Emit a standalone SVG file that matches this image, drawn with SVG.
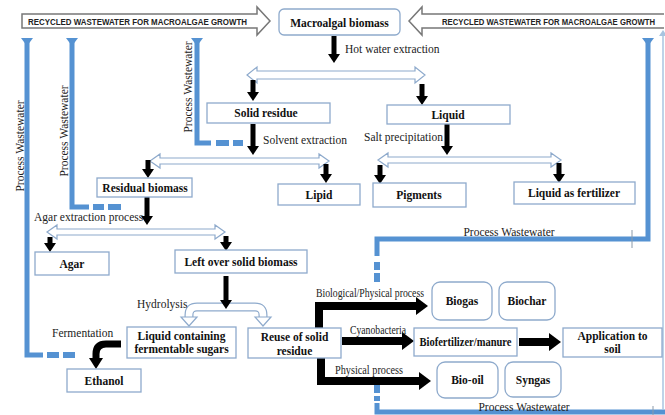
<svg xmlns="http://www.w3.org/2000/svg" width="665" height="415" viewBox="0 0 665 415">
<defs>
<style>
.box{fill:#fff;stroke:#8eaacc;stroke-width:1.3}
.bt{font-family:"Liberation Serif","Times New Roman",serif;font-weight:bold;font-size:11.5px;fill:#111;text-anchor:middle}
.lt{font-family:"Liberation Serif","Times New Roman",serif;font-size:11.5px;fill:#222}
.ban{fill:#fff;stroke:#777;stroke-width:1.5}
.bant{font-family:"Liberation Sans",Arial,sans-serif;font-weight:bold;font-size:9.5px;fill:#222}
.dbl{fill:#fff;stroke:#8eaacc;stroke-width:1.2}
.blk{stroke:#000;stroke-width:5;fill:none}
.blk2{stroke:#000;stroke-width:8;fill:none}
.blu{stroke:#5592d2;stroke-width:5;fill:none}
.dash{fill:#5592d2}
</style>
<marker id="ab" markerUnits="userSpaceOnUse" markerWidth="9" markerHeight="12" refX="0" refY="6" orient="auto"><path d="M0,0 L9,6 L0,12 Z" fill="#000"/></marker>
<marker id="ab2" markerUnits="userSpaceOnUse" markerWidth="12" markerHeight="18" refX="0" refY="9" orient="auto"><path d="M0,0 L12,9 L0,18 Z" fill="#000"/></marker>
<marker id="au" markerUnits="userSpaceOnUse" markerWidth="8" markerHeight="12" refX="0" refY="6" orient="auto"><path d="M0,0 L8,6 L0,12 Z" fill="#5592d2"/></marker>
</defs>

<!-- banners -->
<g id="banner-left">
<path class="ban" d="M22,14 L257,14 L257,7 L270,21 L257,35 L257,28 L22,28 Z"/>
<text class="bant" x="28" y="24.5" textLength="219" lengthAdjust="spacingAndGlyphs">RECYCLED WASTEWATER FOR MACROALGAE GROWTH</text>
</g>
<g id="banner-right">
<path class="ban" d="M664,14 L422,14 L422,7 L409,21 L422,35 L422,28 L664,28"/>
<text class="bant" x="442" y="24.5" textLength="213" lengthAdjust="spacingAndGlyphs">RECYCLED WASTEWATER FOR MACROALGAE GROWTH</text>
</g>

<!-- connectors -->
<g id="connectors">
<!-- blue wastewater lines -->
<path class="blu" d="M27,38 L27,355 L43,355" marker-start="url(#au)"/>
<rect class="dash" x="47" y="352" width="12" height="6"/>
<rect class="dash" x="63" y="352" width="12" height="6"/>
<path class="blu" d="M72,38 L72,207 L89,207" marker-start="url(#au)"/>
<rect class="dash" x="93" y="204" width="11" height="6"/>
<rect class="dash" x="108" y="204" width="13" height="6"/>
<path class="blu" d="M197,38 L197,143 L211,143" marker-start="url(#au)"/>
<rect class="dash" x="216" y="140" width="13" height="6"/>
<rect class="dash" x="233" y="140" width="10" height="6"/>
<path class="blu" d="M648,38 L648,239 L377,239 L377,256" marker-start="url(#au)"/>
<rect class="dash" x="374" y="262" width="6" height="8"/>
<rect class="dash" x="374" y="273" width="6" height="9"/>
<rect class="dash" x="374" y="385" width="6" height="8"/>
<rect class="dash" x="374" y="396" width="6" height="5"/>
<path class="blu" d="M377,403 L377,412 L668,412"/>
<line x1="663" y1="34" x2="663" y2="410" stroke="#a8c4e0" stroke-width="1.5"/>
<path d="M659,36 L663,30 L667,36 Z" fill="#a8c4e0"/>
<line x1="632" y1="230" x2="632" y2="248" stroke="#8a9aaa" stroke-width="1"/>
<line x1="653" y1="406" x2="653" y2="415" stroke="#8a9aaa" stroke-width="1"/>
<text class="lt" transform="translate(192,87) rotate(-90)" text-anchor="middle" font-size="11.5">Process Wastewater</text>
<text class="lt" transform="translate(68,131) rotate(-90)" text-anchor="middle" font-size="11.5">Process Wastewater</text>
<text class="lt" transform="translate(24,146) rotate(-90)" text-anchor="middle" font-size="11.5">Process Wastewater</text>
<text class="lt" x="509" y="236" text-anchor="middle" font-size="11">Process Wastewater</text>
<text class="lt" x="524" y="411" text-anchor="middle" font-size="11">Process Wastewater</text>

<!-- black down arrows -->
<line class="blk" x1="334" y1="36" x2="334" y2="54" marker-end="url(#ab)"/>
<text class="lt" x="345" y="53">Hot water extraction</text>
<path class="dbl" d="M247,75 L257,67 L257,71 L415,71 L415,67 L425,75 L415,83 L415,79 L257,79 L257,83 Z"/>
<line class="blk" x1="253" y1="80" x2="253" y2="92" marker-end="url(#ab)"/>
<line class="blk" x1="422" y1="84" x2="422" y2="96" marker-end="url(#ab)"/>

<line class="blk" x1="253" y1="124" x2="253" y2="146" marker-end="url(#ab)"/>
<text class="lt" x="263" y="144">Solvent extraction</text>
<line class="blk" x1="447" y1="124" x2="447" y2="146" marker-end="url(#ab)"/>
<text class="lt" x="364" y="141">Salt precipitation</text>

<path class="dbl" d="M150,161 L160,154 L160,158 L319,158 L319,154 L329,161 L319,168 L319,164 L160,164 L160,168 Z"/>
<line class="blk" x1="148" y1="160" x2="148" y2="169" marker-end="url(#ab)"/>
<line class="blk" x1="326" y1="164" x2="326" y2="174" marker-end="url(#ab)"/>
<path class="dbl" d="M378,160 L388,153 L388,157 L551,157 L551,153 L561,160 L551,167 L551,163 L388,163 L388,167 Z"/>
<line class="blk" x1="380" y1="165" x2="380" y2="175" marker-end="url(#ab)"/>
<line class="blk" x1="559" y1="163" x2="559" y2="174" marker-end="url(#ab)"/>

<line class="blk" x1="147" y1="197" x2="147" y2="216" marker-end="url(#ab)"/>
<text class="lt" x="34" y="221">Agar extraction process</text>
<path class="dbl" d="M47,232 L57,225 L57,229 L215,229 L215,225 L225,232 L215,239 L215,235 L57,235 L57,239 Z"/>
<line class="blk" x1="50" y1="237" x2="50" y2="243" marker-end="url(#ab)"/>
<line class="blk" x1="226" y1="236" x2="226" y2="242" marker-end="url(#ab)"/>

<!-- hydrolysis split -->
<path d="M226,307 L197,307 Q189,307 189,315 L189,318" fill="none" stroke="#8eaacc" stroke-width="9"/>
<path d="M226,307 L197,307 Q189,307 189,315 L189,318" fill="none" stroke="#fff" stroke-width="6.6"/>
<path class="dbl" d="M181,317 L197,317 L189,326 Z"/>
<path d="M226,307 L255,307 Q263,307 263,315 L263,318" fill="none" stroke="#8eaacc" stroke-width="9"/>
<path d="M226,307 L255,307 Q263,307 263,315 L263,318" fill="none" stroke="#fff" stroke-width="6.6"/>
<path class="dbl" d="M255,317 L271,317 L263,326 Z"/>
<line class="blk" x1="226" y1="276" x2="226" y2="300" marker-end="url(#ab)"/>
<text class="lt" x="137" y="308" font-size="11">Hydrolysis</text>

<!-- fermentation -->
<path d="M121,344 L106,344 Q96,344 96,354 L96,359" fill="none" stroke="#000" stroke-width="7"/>
<path d="M89,358 L103,358 L96,369 Z" fill="#000"/>
<text class="lt" x="52" y="337" font-size="11">Fermentation</text>

<!-- reuse outputs -->
<path class="blk2" d="M319,328 L319,306 L416,306" marker-end="url(#ab2)"/>
<text class="lt" x="316" y="297" font-size="10" textLength="108" lengthAdjust="spacingAndGlyphs">Biological/Physical process</text>
<line class="blk2" x1="342" y1="341" x2="402" y2="341" marker-end="url(#ab2)"/>
<text class="lt" x="350" y="334" font-size="10" textLength="56" lengthAdjust="spacingAndGlyphs">Cyanobacteria</text>
<path class="blk2" d="M321,358 L321,381 L419,381" marker-end="url(#ab2)"/>
<text class="lt" x="335" y="374" font-size="10" textLength="68" lengthAdjust="spacingAndGlyphs">Physical process</text>
<line class="blk2" x1="519" y1="342" x2="549" y2="342" marker-end="url(#ab2)"/>
</g>

<!-- nodes -->
<g id="macroalgal-biomass"><rect class="box" x="279" y="9" width="121" height="26" rx="5"/><text class="bt" x="339.5" y="27" font-size="13">Macroalgal biomass</text></g>
<g id="solid-residue"><rect class="box" x="207" y="103" width="123" height="20"/><text class="bt" x="266" y="117">Solid residue</text></g>
<g id="liquid"><rect class="box" x="387" y="105" width="123" height="19"/><text class="bt" x="448" y="119">Liquid</text></g>
<g id="residual-biomass"><rect class="box" x="97" y="178" width="95" height="19"/><text class="bt" x="145" y="192">Residual biomass</text></g>
<g id="lipid"><rect class="box" x="278" y="184" width="82" height="21"/><text class="bt" x="319" y="199">Lipid</text></g>
<g id="pigments"><rect class="box" x="373" y="183" width="93" height="24"/><text class="bt" x="419" y="199">Pigments</text></g>
<g id="liquid-fertilizer"><rect class="box" x="514" y="182" width="121" height="22"/><text class="bt" x="574" y="197">Liquid as fertilizer</text></g>
<g id="agar"><rect class="box" x="35" y="252" width="74" height="23"/><text class="bt" x="72" y="268">Agar</text></g>
<g id="left-over"><rect class="box" x="175" y="250" width="132" height="23"/><text class="bt" x="241" y="266">Left over solid biomass</text></g>
<g id="liquid-sugars"><rect class="box" x="127" y="327" width="109" height="31"/><text class="bt" x="181.5" y="340" font-size="10">Liquid containing</text><text class="bt" x="181.5" y="353" font-size="10">fermentable sugars</text></g>
<g id="reuse"><rect class="box" x="248" y="328" width="93" height="30"/><text class="bt" x="294.5" y="341" font-size="12">Reuse of solid</text><text class="bt" x="294.5" y="355" font-size="12">residue</text></g>
<g id="ethanol"><rect class="box" x="67" y="369" width="74" height="23"/><text class="bt" x="104" y="385">Ethanol</text></g>
<g id="biogas"><rect class="box" x="432" y="282" width="60" height="38" rx="8"/><text class="bt" x="462" y="305">Biogas</text></g>
<g id="biochar"><rect class="box" x="499" y="282" width="56" height="38" rx="8"/><text class="bt" x="527" y="305">Biochar</text></g>
<g id="biofertilizer"><rect class="box" x="414" y="328" width="103" height="28"/><text class="bt" x="465.5" y="346" textLength="92" lengthAdjust="spacingAndGlyphs">Biofertilizer/manure</text></g>
<g id="application"><rect class="box" x="563" y="328" width="99" height="29"/><text class="bt" x="612.5" y="340">Application to</text><text class="bt" x="612.5" y="353">soil</text></g>
<g id="bio-oil"><rect class="box" x="437" y="362" width="61" height="36" rx="8"/><text class="bt" x="467.5" y="384">Bio-oil</text></g>
<g id="syngas"><rect class="box" x="505" y="362" width="56" height="35" rx="8"/><text class="bt" x="533" y="384">Syngas</text></g>
</svg>
